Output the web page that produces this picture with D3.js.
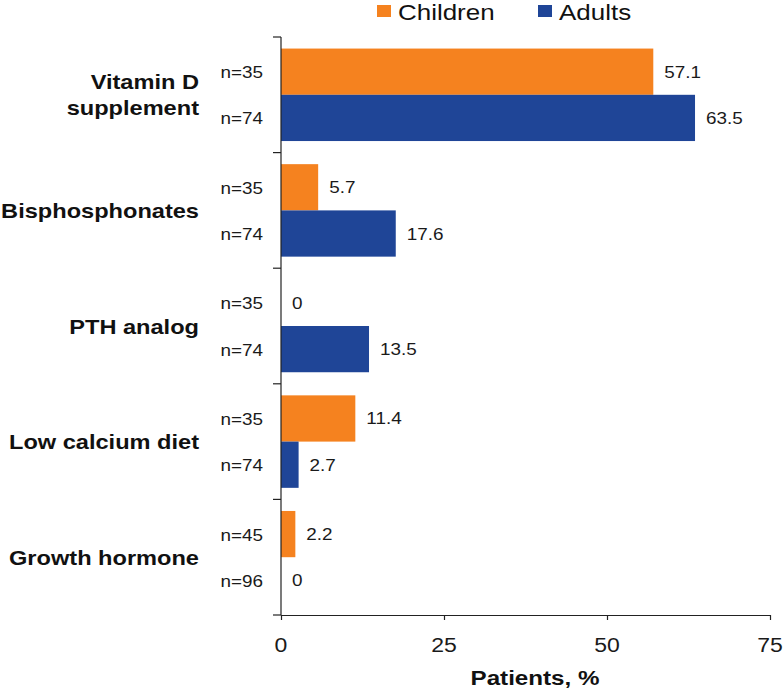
<!DOCTYPE html>
<html>
<head>
<meta charset="utf-8">
<script src="https://cdn.jsdelivr.net/npm/d3@7"></script>
<style>
  html, body { margin: 0; padding: 0; background: #fff; }
  svg { display: block; font-family: "Liberation Sans", Arial, Helvetica, sans-serif; }
</style>
</head>
<body>
<svg id="chart" width="784" height="689"></svg>
<script>
// ---- data ----
const categories = ["Vitamin D supplement", "Bisphosphonates", "PTH analog", "Low calcium diet", "Growth hormone"];
const categoryLines = [["Vitamin D", "supplement"], ["Bisphosphonates"], ["PTH analog"], ["Low calcium diet"], ["Growth hormone"]];
const seriesNames = ["Children", "Adults"];
const childrenValues = [57.1, 5.7, 0, 11.4, 2.2];
const adultsValues = [63.5, 17.6, 13.5, 2.7, 0];
const childrenN = ["n=35", "n=35", "n=35", "n=35", "n=45"];
const adultsN = ["n=74", "n=74", "n=74", "n=74", "n=96"];
const xTicks = [0, 25, 50, 75];
const xTitle = "Patients, %";
const colors = { Children: "#F5821F", Adults: "#1F4597" };

// ---- layout ----
const SX = 1.18; // horizontal text stretch seen in reference
const svg = d3.select("#chart");
const plotLeft = 281, plotRight = 770, plotTop = 37, plotBottom = 615;

const x = d3.scaleLinear().domain([0, 75]).range([plotLeft, plotRight]);
const y = d3.scaleBand().domain(categories).range([plotTop, plotBottom]).paddingInner(0.2).paddingOuter(0.1);
const yInner = d3.scaleBand().domain(seriesNames).range([0, y.bandwidth()]).padding(0);
const gapHalf = (y.step() - y.bandwidth()) / 2;

const valuesBy = { Children: childrenValues, Adults: adultsValues };
const nBy = { Children: childrenN, Adults: adultsN };

function stretchedText(parent, tx, ty, str, opts) {
  const g = parent.append("g").attr("transform", `translate(${tx},${ty})`);
  const t = g.append("text")
    .attr("transform", `scale(${SX},1)`)
    .attr("text-anchor", opts.anchor || "start")
    .attr("font-size", opts.size)
    .attr("font-weight", opts.weight || "normal")
    .attr("fill", opts.fill || "#111")
    .text(str);
  return t;
}

// ---- bars ----
const rows = [];
categories.forEach((c, i) => {
  seriesNames.forEach(s => {
    rows.push({ cat: c, i, series: s, value: valuesBy[s][i], n: nBy[s][i] });
  });
});

svg.append("g").selectAll("rect").data(rows).join("rect")
  .attr("x", x(0))
  .attr("y", d => y(d.cat) + yInner(d.series))
  .attr("width", d => x(d.value) - x(0))
  .attr("height", yInner.bandwidth())
  .attr("fill", d => colors[d.series]);

// value labels
const labG = svg.append("g");
rows.forEach(d => {
  const cy = y(d.cat) + yInner(d.series) + yInner.bandwidth() / 2;
  stretchedText(labG, x(d.value) + 11, cy + 6, String(d.value), { size: 16, fill: "#1a1a1a" });
  stretchedText(labG, 263, cy + 6.5, d.n, { size: 16, anchor: "end", fill: "#1a1a1a" });
});

// category labels
const catG = svg.append("g");
categories.forEach((c, i) => {
  const lines = categoryLines[i];
  const cy = y(c) + y.bandwidth() / 2;
  const lh = 26;
  lines.forEach((ln, k) => {
    const by = cy + 7.5 + (k - (lines.length - 1) / 2) * lh;
    stretchedText(catG, 199, by, ln, { size: 20, weight: "bold", anchor: "end", fill: "#111" });
  });
});

// ---- y axis: line + boundary ticks ----
const axG = svg.append("g").attr("stroke", "#222").attr("stroke-width", 1.2);
axG.append("line").attr("x1", plotLeft).attr("x2", plotLeft).attr("y1", plotTop).attr("y2", plotBottom);
const boundaries = categories.map(c => y(c) - gapHalf).concat([y(categories[categories.length - 1]) + y.bandwidth() + gapHalf]);
axG.selectAll("line.tk").data(boundaries).join("line").attr("class", "tk")
  .attr("x1", plotLeft - 8).attr("x2", plotLeft).attr("y1", d => d).attr("y2", d => d);

// ---- x axis ----
const xAxis = d3.axisBottom(x).tickValues(xTicks).tickSize(5).tickSizeOuter(0).tickFormat(d3.format("d"));
const xg = svg.append("g").attr("transform", `translate(0,${plotBottom})`).call(xAxis);
xg.select(".domain").attr("stroke", "#222").attr("stroke-width", 1.2);
xg.selectAll(".tick line").attr("stroke", "#222").attr("stroke-width", 1.2);
xg.selectAll(".tick text").remove();
xTicks.forEach(v => {
  stretchedText(svg, x(v), 652, String(v), { size: 19.5, anchor: "middle", fill: "#1a1a1a" });
});
stretchedText(svg, 535, 685, xTitle, { size: 20.5, weight: "bold", anchor: "middle", fill: "#111" });

// ---- legend ----
const legendX = [377, 538];
seriesNames.forEach((s, k) => {
  svg.append("rect").attr("x", legendX[k]).attr("y", 5).attr("width", 14).attr("height", 12).attr("fill", colors[s]);
  stretchedText(svg, legendX[k] + 21, 20, s, { size: 22, fill: "#111" });
});
</script>
</body>
</html>
